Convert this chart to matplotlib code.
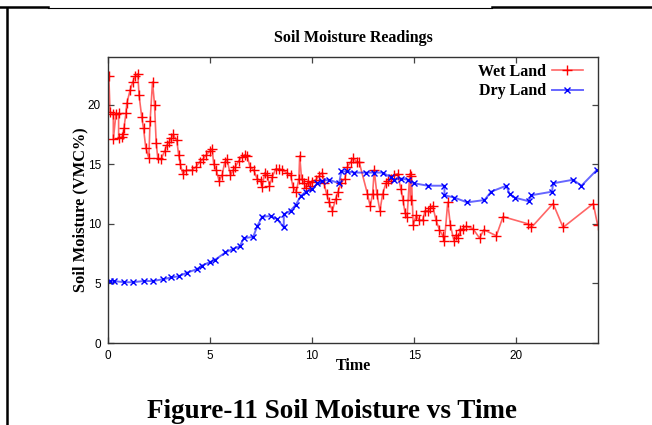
import matplotlib
matplotlib.use("Agg")
import matplotlib.pyplot as plt
from matplotlib.lines import Line2D

wet_time = [0.04, 0.10, 0.26, 0.26, 0.39, 0.52, 0.52, 0.69, 0.74, 0.78, 0.88, 0.92, 1.08, 1.21, 1.33,
            1.46, 1.52, 1.65, 1.74, 1.85, 2.00, 2.06, 2.18, 2.28, 2.36, 2.44, 2.60, 2.77, 2.88, 3.00,
            3.10, 3.19, 3.37, 3.46, 3.54, 3.67, 3.83, 4.11, 4.32, 4.49, 4.63, 4.82, 4.98, 5.10, 5.18,
            5.31, 5.44, 5.59, 5.72, 5.83, 6.00, 6.13, 6.24, 6.41, 6.54, 6.70, 6.82, 6.95, 7.14, 7.30,
            7.47, 7.55, 7.68, 7.80, 7.91, 8.04, 8.21, 8.37, 8.54, 8.75, 8.94, 9.06, 9.22, 9.35, 9.39,
            9.48, 9.60, 9.70, 9.80, 9.90, 10.00, 10.17, 10.33, 10.50, 10.58, 10.71, 10.83, 10.99, 11.15,
            11.27, 11.40, 11.60, 11.73, 11.89, 12.02, 12.19, 12.30, 12.71, 12.84, 12.96, 13.04, 13.17,
            13.32, 13.45, 13.61, 13.73, 13.86, 14.02, 14.18, 14.35, 14.45, 14.55, 14.65, 14.78, 14.82,
            14.86, 14.95, 15.09, 15.25, 15.41, 15.53, 15.69, 15.79, 15.90, 16.07, 16.23, 16.40, 16.48,
            16.64, 16.77, 16.94, 17.05, 17.13, 17.26, 17.38, 17.54, 17.87, 18.20, 18.41, 19.02, 19.35,
            20.57, 20.74, 21.80, 22.29, 23.77, 23.98]
wet_vmc = [22.4, 19.4, 19.2, 17.1, 19.2, 19.3, 17.2, 17.3, 17.5, 18.0, 19.3, 20.1, 21.2, 21.9, 22.4,
           22.6, 20.8, 19.0, 18.0, 16.4, 15.5, 18.6, 21.9, 20.0, 16.8, 15.5, 15.4, 16.1, 16.6, 16.9,
           17.2, 17.5, 17.0, 15.8, 15.0, 14.2, 14.5, 14.5, 14.8, 15.2, 15.4, 15.8, 16.1, 16.3, 15.0,
           14.5, 13.6, 14.1, 15.2, 15.4, 14.1, 14.5, 14.8, 15.3, 15.6, 15.8, 15.7, 14.8, 14.5, 13.8,
           13.6, 13.1, 14.3, 14.1, 13.2, 13.9, 14.6, 14.6, 14.5, 14.3, 14.1, 13.1, 12.7, 13.8, 15.7,
           13.8, 13.4, 13.0, 13.6, 13.2, 13.5, 13.7, 14.0, 14.3, 13.4, 12.5, 11.8, 11.1, 12.1,
           12.7, 13.4, 13.8, 14.8, 15.2, 15.5, 15.2, 15.2, 12.5, 11.5, 12.5, 14.5, 12.5,
           11.1, 12.5, 13.4, 13.6, 13.8, 14.1, 14.2, 12.9, 12.0, 10.9, 10.6, 14.2, 12.0,
           14.0, 9.9, 10.7, 10.3, 10.3, 11.1, 11.1, 11.3, 11.5, 10.3, 9.5, 9.0, 8.6,
           11.8, 9.9, 8.6, 9.1, 8.8, 9.5, 9.6, 9.8, 9.6, 8.8, 9.5, 9.0, 10.6,
           10.0, 9.7, 11.7, 9.7, 11.7, 9.9]

dry_time = [0.10, 0.29, 0.79, 1.21, 1.74, 2.20, 2.69, 3.10, 3.46, 3.87, 4.36, 4.60, 5.01, 5.26, 5.75,
            6.13, 6.45, 6.65, 7.11, 7.31, 7.55, 7.96, 8.29, 8.61, 8.61, 8.94, 9.20, 9.43, 9.68, 10.00,
            10.26, 10.50, 10.83, 11.32, 11.43, 11.73, 12.05, 12.63, 13.04, 13.45, 13.86, 14.02, 14.35,
            14.68, 15.00, 15.66, 16.48, 16.48, 16.97, 17.59, 18.44, 18.77, 19.51, 19.67, 19.92, 20.60,
            20.74, 21.75, 21.80, 22.78, 23.19, 23.93]
dry_vmc = [5.2, 5.2, 5.1, 5.1, 5.2, 5.2, 5.35, 5.5, 5.6, 5.9, 6.2, 6.5, 6.8, 7.0, 7.6,
           7.9, 8.1, 8.8, 8.9, 9.8, 10.6, 10.65, 10.4, 9.7, 10.8, 11.1, 11.6, 12.3, 12.7, 12.9,
           13.4, 13.6, 13.7, 13.4, 14.4, 14.4, 14.3, 14.3, 14.3, 14.3, 13.9, 13.7, 13.8,
           13.7, 13.4, 13.2, 13.2, 12.4, 12.2, 11.8, 12.0, 12.7, 13.2, 12.5, 12.2, 11.9,
           12.4, 12.7, 13.4, 13.7, 13.2, 14.5]

x_ticks = [0, 5, 10, 15, 20]
y_ticks = [0, 5, 10, 15, 20]

W, H = 652, 425
fig = plt.figure(figsize=(W / 100, H / 100), dpi=100)
ax = fig.add_axes([108 / W, 1 - 343 / H, (598 - 108) / W, (343 - 57) / H])

serif = "Liberation Serif"
tickfont = ["Liberation Sans Narrow", "Liberation Sans", "DejaVu Sans"]

ax.plot(wet_time, wet_vmc, color=(1, 0, 0, 0.6), lw=1.2, marker="+", ms=7, mew=1.0,
        mec="#ff0000", label="Wet Land")
ax.plot(dry_time, dry_vmc, color=(0, 0, 1, 0.6), lw=1.4, marker="x", ms=5, mew=1.0,
        mec="#0000ff", label="Dry Land")

ax.set_xlim(0, 24)
ax.set_ylim(0, 24)
ax.set_xticks(x_ticks)
ax.set_yticks(y_ticks)
ax.tick_params(direction="in", top=True, right=True, length=4, width=0.9, color="#444444",
               labelsize=8.5, pad=5)
for lab in ax.get_xticklabels() + ax.get_yticklabels():
    lab.set_family(tickfont)
for s in ax.spines.values():
    s.set_color("#333333")
    s.set_linewidth(1.0)

ax.set_title("Soil Moisture Readings", family=serif, fontweight="bold", fontsize=11.5, pad=11)
ax.set_xlabel("Time", family=serif, fontweight="bold", fontsize=11.5, labelpad=-3)
ax.set_ylabel("Soil Moisture (VMC%)", family=serif, fontweight="bold", fontsize=11.8)
ax.yaxis.set_label_coords(-0.041, 0.465)

leg = ax.legend(loc="upper right", bbox_to_anchor=(0.985, 1.004), frameon=False,
                markerfirst=False, handlelength=1.9,
                prop={"family": serif, "weight": "bold", "size": 11.5},
                borderaxespad=0.1, labelspacing=0.22, handletextpad=0.4)

fig.text(332 / W, 1 - 411 / H, "Figure-11 Soil Moisture vs Time", family=serif,
         fontweight="bold", fontsize=19.5, ha="center", va="center")

# page frame lines
fig.add_artist(Line2D([6.5 / W, 6.5 / W], [0, 1 - 8 / H], color="black", lw=1.8))
fig.add_artist(Line2D([0, 48 / W], [1 - 7 / H, 1 - 7 / H], color="black", lw=1.8))
fig.add_artist(Line2D([48 / W, 492 / W], [1 - 7.5 / H, 1 - 7.5 / H], color="black", lw=0.8))
fig.add_artist(Line2D([492 / W, 1], [1 - 7 / H, 1 - 7 / H], color="black", lw=1.8))

fig.savefig("out.png", dpi=100)
